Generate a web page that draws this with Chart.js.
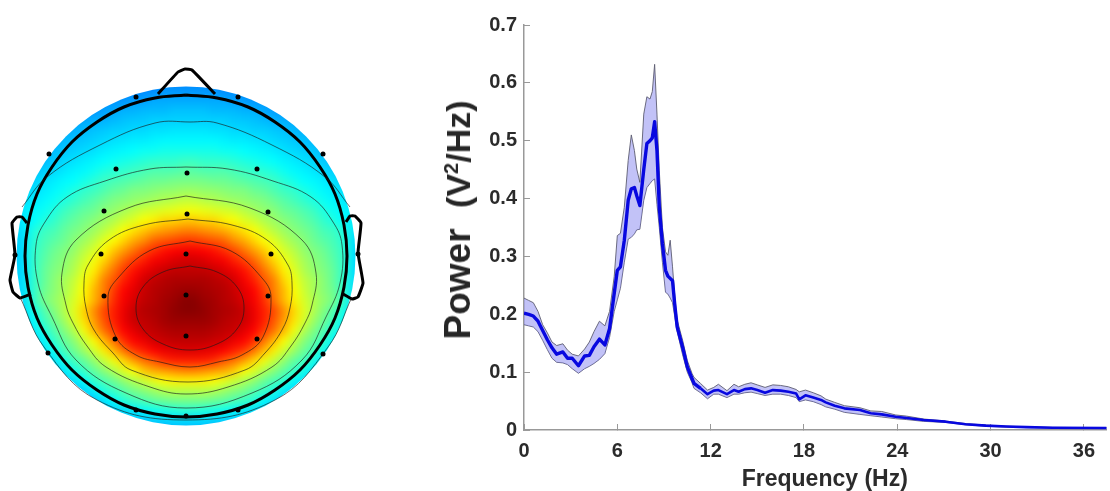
<!DOCTYPE html>
<html>
<head>
<meta charset="utf-8">
<title>Topography and power spectrum</title>
<script src="https://cdn.jsdelivr.net/npm/chart.js@4/dist/chart.umd.min.js"></script>
<style>
    html, body { margin: 0; background: #fff; overflow: hidden; }
    #stage { position: relative; width: 1110px; height: 491px; }
    #topoChart { position: absolute; left: 0; top: 0; }
    #powerChart { position: absolute; left: 400px; top: 0; }
    #powerTitle {
        position: absolute; left: 458px; top: 220px;
        transform: translate(-50%, -50%) rotate(-90deg);
        white-space: pre; color: #262626;
        font: bold 37px "Liberation Sans", Arial, sans-serif; line-height: 40px;
    }
    #powerTitle span { font-size: 34px; }
    #powerTitle sup { font-size: 20px; line-height: 0; }
</style>
</head>
<body>
<div id="stage">
    <canvas id="topoChart" width="380" height="491"></canvas>
    <canvas id="powerChart" width="710" height="491"></canvas>
    <div id="powerTitle">Power  <span>(V<sup>2</sup>/Hz)</span></div>
</div>
<script>
// power spectrum
const freqs = [0, 0.3, 0.6, 0.9, 1.2, 1.5, 1.8, 2.1, 2.5, 2.8, 3.1, 3.5, 3.9, 4.2, 4.5, 4.85, 5.2, 5.5, 5.8, 6, 6.2, 6.45, 6.7, 6.9, 7.1, 7.25, 7.45, 7.7, 7.9, 8.1, 8.25, 8.4, 8.55, 8.7, 8.9, 9.1, 9.25, 9.4, 9.55, 9.7, 9.85, 10.2, 10.5, 10.8,
    10.93, 11.35, 11.8, 12.2, 12.5, 13.05, 13.5, 13.8, 14.2, 14.6, 15, 15.5, 16, 16.5, 17, 17.5, 17.7, 18.1, 18.6, 19.1, 19.4, 19.98, 20.6, 21.6, 22.3, 23, 23.9, 24.6, 25.7, 27.1, 28.4, 29.7, 31, 32.3, 34, 37.5];
const meanPower = [.202, .2, .197, .188, .172, .156, .142, .131, .135, .124, .124, .111, .128, .129, .144, .157, .147, .175, .236, .276, .282, .328, .397, .417, .419, .405, .388, .45, .495, .5, .505, .533, .483, .385, .322, .276, .266, .262, .258, .215, .178, .143, .109, .089,
    .0805, .072, .062, .068, .069, .062, .069, .066, .0707, .072, .069, .0644, .069, .068, .066, .063, .053, .06, .056, .052, .0477, .042, .0374, .0345, .029, .027, .023, .0207, .0172, .0144, .01, .0075, .006, .005, .004, .0035];
const upperPower = [.228, .224, .22, .205, .182, .168, .152, .146, .149, .138, .131, .128, .14, .152, .17, .188, .18, .205, .265, .336, .34, .385, .466, .51, .483, .451, .428, .546, .576, .572, .585, .632, .546, .448, .35, .308, .302, .328, .282, .23, .19, .155, .12, .098,
    .091, .0805, .069, .0736, .079, .068, .079, .0747, .079, .0816, .078, .0736, .078, .077, .0747, .07, .066, .069, .0644, .059, .0534, .0477, .042, .0385, .033, .032, .026, .024, .019, .0155, .011, .0085, .0065, .0055, .0045, .004];
const lowerPower = [.182, .18, .178, .17, .155, .139, .124, .117, .116, .113, .106, .098, .106, .11, .115, .122, .132, .16, .205, .225, .245, .29, .33, .333, .339, .346, .347, .397, .419, .426, .431, .434, .39, .35, .29, .238, .235, .228, .22, .195, .17, .13, .1, .082,
    .072, .0644, .054, .062, .062, .056, .062, .062, .0644, .0655, .063, .0597, .062, .062, .0597, .056, .049, .052, .049, .044, .04, .036, .0305, .027, .0247, .0225, .0195, .018, .0149, .0132, .009, .0065, .005, .0042, .0035, .003];
const xTicks = [0, 6, 12, 18, 24, 30, 36];
const yTicks = [0, 0.1, 0.2, 0.3, 0.4, 0.5, 0.6, 0.7];

// scalp map. Each row is the right half of the map, from the midline out, top row first
const heatRows = [
    [26,26,26,25,25,24,24,23,23,22,21,21,20,19,18,17,16,15],
    [28,28,28,27,27,26,26,25,25,24,23,23,22,21,20,19,18,17],
    [30,30,30,30,29,29,28,28,27,26,25,24,23,22,21,20,19,18],
    [33,33,32,32,32,31,31,30,29,28,27,27,26,24,23,22,21,20],
    [35,35,35,35,34,34,33,32,31,31,30,29,28,27,25,24,23,22],
    [38,38,37,37,36,36,35,35,34,33,32,31,30,29,27,26,25,24],
    [41,41,41,40,39,39,38,37,36,35,34,33,32,30,29,27,26,25],
    [44,44,44,43,43,42,41,40,39,37,36,35,34,32,31,29,28,27],
    [48,47,47,47,46,45,44,43,42,40,39,37,36,34,32,30,30,28],
    [51,50,50,50,49,48,47,46,45,43,41,40,38,36,35,33,32,30],
    [54,54,53,53,52,51,50,49,48,46,44,42,41,39,37,35,34,32],
    [58,57,57,56,55,55,53,52,50,48,47,45,43,41,39,37,36,34],
    [62,61,60,59,58,57,56,55,53,51,49,47,45,43,41,39,37,35],
    [67,66,65,64,63,61,59,57,56,53,52,50,48,45,43,41,39,36],
    [72,71,71,69,68,65,63,60,58,56,54,52,50,47,45,42,39,36],
    [77,76,75,74,72,70,68,64,61,58,56,54,52,49,48,45,38,35],
    [82,81,80,79,76,74,71,68,65,61,58,56,53,51,49,46,37,34],
    [87,86,85,83,81,78,75,72,68,64,61,57,55,53,50,47,37,34],
    [91,90,88,87,84,82,79,75,71,67,63,59,56,54,51,47,37,34],
    [93,93,92,90,88,85,82,78,74,69,65,60,57,55,52,47,37,34],
    [95,95,94,93,91,87,84,80,77,71,67,62,59,56,52,47,37,34],
    [97,96,95,94,92,89,86,82,77,73,68,63,59,56,53,47,37,34],
    [99,97,96,94,93,90,87,83,78,73,69,64,60,57,54,47,37,34],
    [99,98,96,95,94,92,88,84,81,76,71,65,60,55,50,44,37,33],
    [97,97,96,94,93,92,88,84,80,75,70,64,58,53,48,42,36,32],
    [95,95,94,93,92,89,86,82,78,73,67,60,55,50,45,39,34,30],
    [93,93,92,91,88,86,83,78,73,68,62,56,52,47,41,36,32,28],
    [90,89,88,86,84,82,78,73,69,63,58,53,49,43,38,34,30,26],
    [84,84,83,80,78,75,71,67,62,57,52,49,44,38,33,30,27,24],
    [77,76,75,74,72,68,65,60,56,52,48,44,39,34,30,27,23,20],
    [69,69,68,66,63,60,57,53,50,47,42,38,34,30,26,23,20,18],
    [61,61,60,58,56,54,51,48,45,40,36,32,29,26,22,20,17,15],
    [54,54,53,52,50,48,46,42,38,34,30,27,24,21,18,15,13,12],
    [46,45,44,43,41,39,37,35,32,29,26,23,20,18,15,13,11,10],
    [36,36,35,35,34,33,31,29,27,25,22,20,18,16,14,12,10,9],
    [31,31,30,30,29,28,26,24,22,20,18,16,14,12,10,9,8,7]
];
// contour lines, in head units with the origin at the middle of the head
const contourLines = [
    [[4,-10],[31,-16],[51,-31],[58,-52],[51,-73],[31,-88],[4,-94],[-23,-88],[-43,-73],[-50,-52],[-43,-31],[-23,-16],[4,-10]],
    [[4,15],[45,5],[76,-22],[85,-41],[77,-81],[56,-99],[32,-106],[4,-111],[-26,-106],[-50,-99],[-70,-81],[-78,-41],[-68,-22],[-37,5],[4,15]],
    [[2,37],[46,31],[81,16],[102,-9],[106,-27],[104,-52],[96,-74],[79,-97],[59,-114],[2,-126],[-55,-114],[-73,-97],[-92,-74],[-100,-52],[-102,-27],[-98,-9],[-77,16],[-42,31],[2,37]],
    [[0,60],[64,48],[116,16],[130,-17],[126,-49],[119,-67],[105,-90],[86,-111],[42,-131],[0,-138],[-36,-131],[-80,-111],[-99,-90],[-113,-67],[-120,-49],[-124,-17],[-110,16],[-58,48],[0,60]],
    [[0,89],[42,87],[87,75],[125,59],[147,34],[156,11],[154,-27],[140,-61],[116,-104],[66,-137],[0,-152],[-60,-137],[-110,-104],[-134,-61],[-148,-27],[-150,11],[-141,34],[-119,59],[-81,75],[-36,87],[0,89]],
    [[-164,49],[-139,79],[-86,111],[-31,133],[4,134],[31,133],[86,111],[139,79],[164,49]],
    [[166,-41],[142,-91],[89,-144],[0,-164],[-89,-144],[-142,-91],[-166,-41]]
];
const headRing = [[0,161],[31,158],[62,149],[89,134],[114,114],[134,89],[149,62],[158,31],[161,0],[158,-31],[149,-62],[134,-89],[114,-114],[89,-134],[62,-149],[31,-158],[0,-161],[-31,-158],[-62,-149],[-89,-134],[-114,-114],[-134,-89],[-149,-62],[-158,-31],[-161,0],[-158,31],[-149,62],[-134,89],[-114,114],[-89,134],[-62,149],[-31,158],[0,161]];
const nose = [[-28,162],[-8,184],[-1,187],[6,186],[29,162]];
const leftEar = [[-159,33],[-164,39],[-169,39],[-174,33],[-171,1],[-176,-24],[-173,-36],[-166,-42],[-155,-38]];
const rightEar = [[160,34],[164,40],[169,40],[175,33],[172,3],[177,-27],[172,-41],[166,-43],[157,-38]];
const electrodes = [[-50,159],[52,159],[-137,102],[137,102],[-70,87],[1,83],[71,87],[-82,45],[1,42],[82,44],[-85,2],[0,2],[85,2],[-171,1],[172,2],[-82,-40],[0,-39],[82,-40],[-71,-83],[0,-80],[71,-83],[-138,-97],[137,-98],[-50,-154],[0,-160],[52,-154]];

// colour of the map: value, r, g, b
const jetStops = [[0, 0, 0, 128], [14, 0, 0, 255], [26, 0, 130, 255], [30, 0, 170, 255], [37, 0, 225, 255], [42, 0, 255, 255], [68, 255, 255, 0], [86, 255, 0, 0], [100, 128, 0, 0]];

function jetColor(v) {
    for (let i = 1; i < jetStops.length; i++) {
        if (v <= jetStops[i][0]) {
            let a = jetStops[i - 1], b = jetStops[i]
            let t = (v - a[0]) / (b[0] - a[0])
            let mix = [1, 2, 3].map(k => Math.round(a[k] + (b[k] - a[k]) * t))
            return `rgb(${mix[0]},${mix[1]},${mix[2]})`
        }
    }
    return 'rgb(128,0,0)'
}

let heatPoints = []
let heatColors = []
heatRows.forEach((half, r) => {
    let row = half.slice().reverse().concat(half)
    row.forEach((v, c) => {
        heatPoints.push({ x: -172 + c * 10, y: 175 - r * 10 })
        heatColors.push(jetColor(v))
    })
})

const toXY = (pairs) => pairs.map(p => ({ x: p[0], y: p[1] }))

function outline(pairs, width, color, tension) {
    return {
        data: toXY(pairs), showLine: true, pointRadius: 0, fill: false, order: 5,
        borderColor: color, borderWidth: width, tension: tension, borderJoinStyle: 'round'
    }
}

// smooths the cells of the map and trims them to the disc
const softenHeat = {
    id: 'softenHeat',
    afterDatasetDraw(chart, args) {
        if (args.index !== 0) return
        let ctx = chart.ctx
        let copy = document.createElement('canvas')
        copy.width = chart.canvas.width
        copy.height = chart.canvas.height
        copy.getContext('2d').drawImage(chart.canvas, 0, 0)
        let cx = chart.scales.x.getPixelForValue(0)
        let cy = chart.scales.y.getPixelForValue(0)
        let radius = chart.scales.x.getPixelForValue(169.5) - cx
        ctx.save()
        ctx.clearRect(0, 0, copy.width, copy.height)
        ctx.beginPath()
        ctx.arc(cx, cy, radius, 0, Math.PI * 2)
        ctx.clip()
        ctx.filter = 'blur(4px)'
        ctx.drawImage(copy, 0, 0)
        ctx.restore()
    }
}

new Chart(document.getElementById('topoChart').getContext('2d'), {
    type: 'scatter',
    data: {
        datasets: [
            {
                data: heatPoints, pointStyle: 'rect', pointRadius: 7.6, borderWidth: 0,
                backgroundColor: heatColors, order: 10
            },
            ...contourLines.map(line => outline(line, 0.8, 'rgba(25,25,25,0.8)', 0.4)),
            outline(headRing, 3, '#000', 0.4),
            outline(nose, 3, '#000', 0.1),
            outline(leftEar, 3, '#000', 0.1),
            outline(rightEar, 3, '#000', 0.1),
            { data: toXY(electrodes), pointRadius: 2.5, backgroundColor: '#000', borderWidth: 0, order: 1 }
        ]
    },
    options: {
        responsive: false,
        animation: false,
        events: [],
        layout: { padding: 0, autoPadding: false },
        plugins: { legend: { display: false }, tooltip: { enabled: false } },
        scales: {
            x: { type: 'linear', display: false, min: -186, max: 194 },
            y: { type: 'linear', display: false, min: -235, max: 256 }
        }
    },
    plugins: [softenHeat]
});

const series = (values) => values.map((v, i) => ({ x: freqs[i], y: v }))
const tickFont = { family: '"Liberation Sans", Arial, sans-serif', size: 20, weight: 'bold' }

new Chart(document.getElementById('powerChart').getContext('2d'), {
    type: 'line',
    data: {
        datasets: [
            {
                data: series(meanPower), borderColor: '#0808e0', borderWidth: 3.4,
                pointRadius: 0, fill: false, order: 1, borderJoinStyle: 'round',
                segment: { borderWidth: (ctx) => ctx.p0.parsed.x < 11 ? 3.4 : 2.6 }
            },
            {
                data: series(upperPower), borderColor: '#5c5c70', borderWidth: 0.9,
                pointRadius: 0, order: 2, fill: { target: 2 }, backgroundColor: 'rgba(110,110,235,0.42)'
            },
            {
                data: series(lowerPower), borderColor: '#5c5c70', borderWidth: 0.9,
                pointRadius: 0, order: 3, fill: false
            }
        ]
    },
    options: {
        responsive: false,
        animation: false,
        events: [],
        layout: { padding: { top: 24 }, autoPadding: false },
        plugins: { legend: { display: false }, tooltip: { enabled: false } },
        scales: {
            x: {
                type: 'linear', min: 0, max: 37.45,
                afterBuildTicks: (scale) => { scale.ticks = xTicks.map(value => ({ value })) },
                afterFit: (scale) => { scale.height = 61 },
                grid: { drawOnChartArea: false, tickLength: -6, tickColor: '#999' },
                border: { color: '#999', width: 1.5 },
                ticks: { font: tickFont, color: '#2b2b2b', padding: 15, maxRotation: 0, callback: (v) => String(v) },
                title: {
                    display: true, text: '   Frequency (Hz)', color: '#2b2b2b', padding: { top: 0, bottom: -2 },
                    font: { family: tickFont.family, size: 23, weight: 'bold' }
                }
            },
            y: {
                type: 'linear', min: 0, max: 0.7,
                afterBuildTicks: (scale) => { scale.ticks = yTicks.map(value => ({ value })) },
                afterFit: (scale) => { scale.width = 124 },
                grid: { drawOnChartArea: false, tickLength: -6, tickColor: '#999' },
                border: { color: '#999', width: 1.5 },
                ticks: { font: tickFont, color: '#2b2b2b', padding: 13, callback: (v) => String(v) }
            }
        }
    }
});
</script>
</body>
</html>
